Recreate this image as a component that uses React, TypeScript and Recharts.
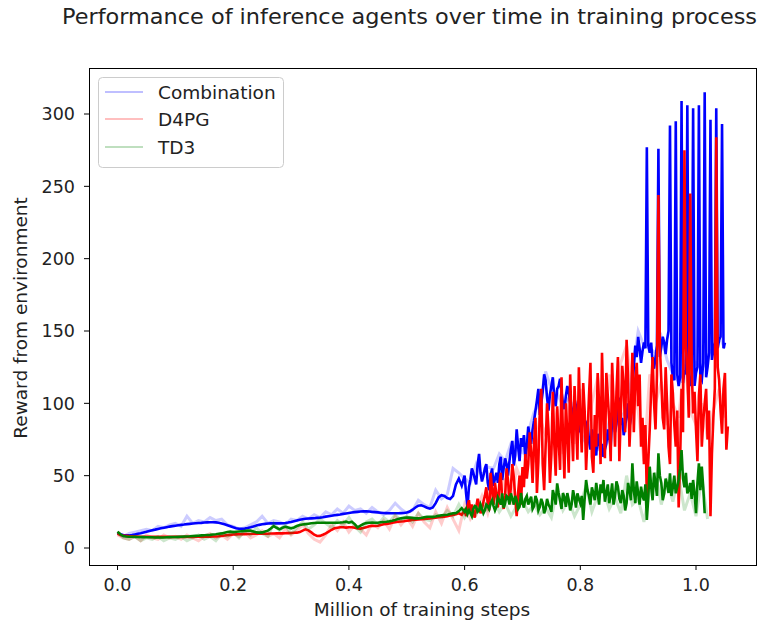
import React from 'react';
import { LineChart, Line, XAxis, YAxis } from 'recharts';

// evaluation every 5000 steps (x in million steps)
const xStep = 0.005;
// from 0.6M steps on, evaluations were logged twice as often
const denseFrom = 120;

// smoothed curves
const combination = [
  10.5, 9.5, 9, 8.8, 8.7, 9, 9.4, 9.8, 10.2, 10.7,
  11.2, 11.8, 12.3, 12.7, 13.2, 13.6, 14, 14.4, 14.8, 15.1,
  15.4, 15.7, 16, 16.2, 16.5, 16.7, 16.9, 17.1, 17.3, 17.4,
  17.6, 17.7, 17.8, 17.8, 17.7, 17.4, 17, 16.4, 15.7, 15,
  14.3, 13.7, 13.3, 13.2, 13.4, 13.8, 14.3, 14.9, 15.5, 16,
  16.4, 16.7, 16.9, 17, 17, 17, 17, 17.1, 17.3, 17.6,
  18, 18.5, 19, 19.5, 19.9, 20.2, 20.4, 20.5, 20.6, 20.8,
  21, 21.3, 21.7, 22, 22.3, 22.6, 22.9, 23.2, 23.6, 23.9,
  24.2, 24.5, 24.8, 25, 25.2, 25.3, 25.3, 25.2, 25, 24.8,
  24.6, 24.4, 24.2, 24.1, 24, 24, 24, 24, 24.1, 24.2,
  24.5, 25.2, 26.5, 28, 29.2, 29.5, 28.8, 27.8, 27.2, 28,
  31, 35, 36.5, 36, 34.5, 33.8, 36, 44, 48, 43,
  50, 28, 47, 52, 44, 65, 46, 55, 45, 50,
  43, 52, 58, 47, 62, 50, 68, 57, 82, 60,
  70, 62, 84, 72, 88, 102, 92, 108, 116, 95,
  112, 104, 110, 117, 100, 105, 108, 95, 103, 90,
  85, 92, 80, 74, 82, 70, 79, 66, 63, 72,
  76, 88, 80, 95, 85, 78, 92, 84, 110, 140,
  146, 128, 142, 277, 135, 128, 132, 276, 139, 142,
  144, 292, 118, 295, 112, 309, 123, 306, 112, 304,
  121, 306, 116, 315, 125, 296, 137, 304, 144, 293, 142,
];
// in-between evaluations after 0.6M steps
const combinationMid = [
  38, 42, 55, 48, 58, 52, 50, 58, 40, 55,
  48, 45, 63, 55, 58, 60, 74, 64, 70, 76,
  78, 70, 78, 82, 95, 110, 100, 120, 104, 106,
  118, 98, 112, 108, 96, 112, 100, 90, 98, 80,
  96, 86, 88, 68, 76, 64, 73, 72, 68, 82,
  70, 93, 86, 104, 90, 84, 100, 90, 125, 132,
  138, 136, 138, 140, 142, 124, 140, 132, 146, 134,
  150, 128, 116, 120, 118, 114, 120, 116, 120, 112,
  125, 118, 128, 118, 135, 130, 142, 138, 146, 138,
];

const d4pg = [
  10, 9, 8.6, 8.4, 8.2, 8.1, 8, 7.9, 7.8, 7.8,
  7.8, 7.7, 7.7, 7.7, 7.7, 7.7, 7.7, 7.7, 7.7, 7.7,
  7.7, 7.7, 7.7, 7.7, 7.7, 7.7, 7.7, 7.8, 7.8, 7.8,
  7.8, 7.8, 7.8, 7.9, 8, 8.1, 8.3, 8.6, 8.9, 9.1,
  9.3, 9.4, 9.5, 9.6, 9.6, 9.7, 9.7, 9.8, 9.8, 9.8,
  9.9, 9.9, 9.9, 10, 10, 10.1, 10.1, 10.1, 10.2, 10.3,
  10.4, 10.5, 10.6, 11, 12, 12.9, 12.2, 10.8, 9.2, 8.3,
  8.4, 9.2, 10.1, 11.3, 12.6, 13.6, 14, 14.3, 14.3, 14.1,
  14.3, 14.3, 14, 13.5, 13.4, 13.8, 14.4, 15, 15.3, 15.2,
  15.4, 15.9, 16.4, 16.7, 17, 17.4, 17.8, 18.1, 18.3, 18.5,
  18.8, 19.1, 19.3, 19.5, 19.7, 19.9, 20.1, 20.3, 20.5, 20.7,
  21, 21.2, 21.5, 21.7, 22, 22.4, 22.8, 23.3, 24, 23,
  26, 29, 24.5, 25, 28, 30, 27, 36, 30, 52,
  30, 37, 44, 33, 36, 47, 42, 49, 22, 50,
  56, 65, 58, 66, 72, 38, 95, 58, 70, 82,
  65, 72, 98, 54, 78, 100, 52, 85, 112, 61,
  90, 114, 54, 105, 63, 92, 121, 58, 95, 121,
  88, 128, 70, 132, 93, 112, 144, 70, 135, 116,
  98, 70, 58, 35, 82, 132, 82, 244, 116, 82,
  100, 58, 107, 70, 28, 110, 275, 120, 245, 93,
  82, 105, 70, 100, 75, 22, 90, 284, 116, 79,
  121, 84,
];
const d4pgMid = [
  22, 33, 30, 21, 34, 24, 32, 42, 26, 40,
  45, 28, 52, 27, 55, 32, 58, 35, 38, 30,
  42, 48, 80, 45, 90, 60, 110, 40, 100, 45,
  108, 50, 75, 118, 48, 80, 120, 60, 88, 125,
  66, 95, 78, 128, 52, 70, 100, 135, 62, 105,
  60, 100, 108, 60, 126, 80, 118, 95, 80, 128,
  120, 90, 85, 60, 110, 100, 120, 140, 90, 125,
  70, 120, 85, 95, 60, 80, 140, 90, 125, 108,
  60, 120, 88, 110, 95, 65, 110, 125, 95, 110,
  68,
];

const td3 = [
  11.3, 9.5, 8.3, 8, 7.8, 7.8, 7.7, 7.6, 7.5, 7.5,
  7.4, 7.4, 7.4, 7.3, 7.3, 7.3, 7.3, 7.4, 7.5, 7.6,
  7.6, 7.7, 7.8, 7.9, 8, 8.1, 8.3, 8.4, 8.5, 8.7,
  8.8, 9, 9.1, 9.3, 9.5, 9.8, 10.1, 10.6, 11.1, 11.3,
  11, 11.2, 11.4, 11.6, 11.8, 12, 12, 11.4, 10.8, 10.6,
  10.8, 11.4, 12, 13.5, 15.2, 14, 12.9, 14, 14.7, 14.2,
  13.6, 14.2, 15.2, 15.9, 16.2, 16.5, 16.8, 17.1, 17.3, 17.5,
  17.5, 17.5, 17.5, 17.5, 17.5, 17.5, 17.5, 17.6, 17.8, 18.2,
  17.5, 18.2, 16.5, 14.3, 15.5, 16.6, 17.2, 17.5, 17.6, 17.5,
  17.5, 17.8, 18, 18.2, 18.5, 18.9, 19.4, 20, 20.5, 20.8,
  21, 21, 20.8, 20.5, 20.5, 20.8, 21.2, 21.6, 21.6, 21.5,
  21.8, 22.2, 22.6, 22.8, 23, 23.5, 24, 24, 25.5, 27.5,
  25, 23.5, 24, 27, 28.5, 26, 27, 26, 29, 31,
  29, 28.5, 33, 37.8, 31, 35, 37.8, 30, 33, 28.5,
  31, 34, 30, 35.5, 29, 33, 28.5, 31, 27, 30,
  25, 36, 44.7, 33, 38, 28.5, 33, 30, 35, 37.8,
  31, 19.4, 47, 36, 42, 33, 37.8, 44, 47, 38,
  31, 44.7, 36, 42.4, 31, 36, 31, 40, 58.5, 31,
  38, 42.4, 33, 19.4, 56.2, 33, 45, 65.5, 45, 37.8,
  44, 51.6, 42, 37.8, 47, 67.7, 42, 37.8, 45, 47,
  24, 58.5, 56.2, 24,
];
const td3Mid = [
  27, 26, 22, 29, 25, 30, 24, 30, 27, 33,
  26, 35, 30, 28, 36, 30, 34, 36, 27, 38,
  28, 36, 33, 27, 36, 26, 34, 24, 34, 28,
  40, 30, 38, 27, 35, 38, 26, 40, 28, 34,
  36, 34, 40, 30, 38, 45, 30, 38, 32, 44,
  36, 30, 46, 34, 40, 26, 45, 33, 40, 46,
  30, 36, 44, 35, 42, 52, 36, 50, 33, 48,
  38, 36, 50, 42, 55, 48, 52, 40, 34, 38,
  45, 40, 42,
];

// raw (unsmoothed) rewards, every 10000 steps
const combinationRaw = [
  10, 8, 10, 11, 12, 13, 12, 15, 14, 16,
  17, 15, 22, 17, 19, 18, 21, 19, 20, 16,
  15, 13, 14, 16, 18, 22, 17, 19, 18, 16,
  20, 19, 22, 20, 23, 21, 25, 23, 27, 24,
  29, 26, 27, 24, 28, 25, 23, 26, 31, 27,
  24, 26, 33, 30, 28, 40, 34, 37, 55, 52,
  48, 45, 58, 50, 56, 55, 65, 60, 72, 68,
  66, 80, 94, 100, 122, 110, 107, 98, 104, 96,
  80, 72, 78, 68, 70, 88, 84, 90, 96, 122,
  150, 140, 138, 135, 146, 130, 120, 115, 125, 118,
  128, 124, 130, 140, 146, 138,
];

const d4pgRaw = [
  9, 7, 6, 8, 5, 9, 7, 6, 9, 7,
  8, 6, 9, 7, 5, 8, 10, 7, 9, 6,
  10, 8, 11, 7, 9, 12, 8, 10, 7, 13,
  9, 12, 16, 10, 6, 4, 9, 16, 12, 18,
  11, 16, 13, 9, 17, 14, 19, 13, 22, 16,
  21, 15, 24, 18, 14, 25, 17, 28, 20, 12,
  30, 20, 26, 36, 24, 40, 32, 48, 30, 55,
  45, 70, 62, 90, 78, 70, 96, 65, 104, 72,
  110, 68, 100, 118, 75, 120, 90, 128, 140, 110,
  95, 60, 120, 100, 115, 85, 100, 90, 130, 95,
  85, 100, 75, 95, 110, 90,
];

const td3Raw = [
  11, 7, 6, 8, 5, 7, 6, 8, 5, 7,
  6, 8, 5, 7, 9, 6, 8, 5, 10, 8,
  11, 7, 12, 9, 14, 10, 8, 17, 12, 16,
  10, 14, 18, 13, 16, 20, 17, 14, 19, 16,
  21, 15, 11, 18, 20, 16, 21, 18, 23, 19,
  22, 18, 24, 20, 19, 23, 21, 26, 22, 30,
  21, 27, 23, 30, 26, 34, 25, 31, 22, 29,
  33, 25, 30, 23, 28, 21, 40, 26, 33, 22,
  30, 43, 25, 36, 40, 27, 35, 24, 50, 30,
  34, 18, 40, 52, 30, 46, 32, 50, 26, 38,
  22, 48, 20,
];

const xTicks = [0, 0.2, 0.4, 0.6, 0.8, 1.0];
const yTicks = [0, 50, 100, 150, 200, 250, 300];

const seriesNames = ['Combination', 'D4PG', 'TD3'];
const seriesColors = ['#0000ff', '#ff0000', '#008000'];

type Row = {
  x: number;
  comb?: number;
  d4pg?: number;
  td3?: number;
  combRaw?: number;
  d4pgRaw?: number;
  td3Raw?: number;
};

const rows: Row[] = [];
for (let i = 0; i < d4pg.length; i++) {
  rows.push({
    x: Number((i * xStep).toFixed(4)),
    comb: combination[i],
    d4pg: d4pg[i],
    td3: td3[i],
    combRaw: i % 2 === 0 ? combinationRaw[i / 2] : undefined,
    d4pgRaw: i % 2 === 0 ? d4pgRaw[i / 2] : undefined,
    td3Raw: i % 2 === 0 ? td3Raw[i / 2] : undefined,
  });
  if (i >= denseFrom) {
    const j = i - denseFrom;
    rows.push({
      x: Number((i * xStep + xStep / 2).toFixed(4)),
      comb: combinationMid[j],
      d4pg: d4pgMid[j],
      td3: td3Mid[j],
    });
  }
}

const font = 'DejaVu Sans, sans-serif';
const tickStyle = { fontSize: 17.5, fill: '#222', fontFamily: font };

export default function App() {
  return (
    <div style={{ position: 'absolute', left: 0, top: 0, width: 759, height: 625, background: '#fff' }}>
      <LineChart
        width={759}
        height={625}
        data={rows}
        margin={{ top: 68, right: 3, left: 0, bottom: 0 }}
      >
        <XAxis
          dataKey="x"
          type="number"
          domain={[-0.0493, 1.1037]}
          allowDataOverflow
          ticks={xTicks}
          tickFormatter={(v: number) => v.toFixed(1)}
          axisLine={false}
          tickLine={{ stroke: '#000' }}
          tickSize={5}
          tickMargin={9}
          height={60}
          tick={tickStyle}
        />
        <YAxis
          type="number"
          domain={[-11.75, 331.8]}
          allowDataOverflow
          ticks={yTicks}
          axisLine={false}
          tickLine={{ stroke: '#000' }}
          tickSize={5}
          tickMargin={9}
          width={89}
          tick={tickStyle}
        />
        <Line dataKey="combRaw" stroke="#0000ff" strokeOpacity={0.2} strokeWidth={3} dot={false} activeDot={false} connectNulls isAnimationActive={false} />
        <Line dataKey="comb" stroke="#0000ff" strokeWidth={2.6} dot={false} activeDot={false} isAnimationActive={false} />
        <Line dataKey="d4pgRaw" stroke="#ff0000" strokeOpacity={0.2} strokeWidth={3} dot={false} activeDot={false} connectNulls isAnimationActive={false} />
        <Line dataKey="d4pg" stroke="#ff0000" strokeWidth={2.6} dot={false} activeDot={false} isAnimationActive={false} />
        <Line dataKey="td3Raw" stroke="#008000" strokeOpacity={0.2} strokeWidth={3} dot={false} activeDot={false} connectNulls isAnimationActive={false} />
        <Line dataKey="td3" stroke="#008000" strokeWidth={2.6} dot={false} activeDot={false} isAnimationActive={false} />
      </LineChart>

      <svg width={759} height={625} style={{ position: 'absolute', left: 0, top: 0, pointerEvents: 'none' }}>
        <rect x={89.5} y={68.5} width={667} height={497} fill="none" stroke="#000" strokeWidth={1} />
        <text x={409.5} y={24} textAnchor="middle" fontSize={21} fontFamily={font} fill="#222" textLength={695} lengthAdjust="spacingAndGlyphs">
          Performance of inference agents over time in training process
        </text>
        <text x={422} y={616} textAnchor="middle" fontSize={18.5} fontFamily={font} fill="#222">
          Million of training steps
        </text>
        <text transform="translate(20,318) rotate(-90)" textAnchor="middle" dominantBaseline="central" fontSize={18.5} fontFamily={font} fill="#222">
          Reward from environment
        </text>
        <rect x={98.5} y={77.5} width={185} height={90} rx={4} fill="#fff" fillOpacity={0.8} stroke="#cccccc" />
        {seriesNames.map((name, i) => {
          const y = [92, 119, 147][i];
          return (
            <g key={name}>
              <line x1={105} x2={143} y1={y} y2={y} stroke={seriesColors[i]} strokeOpacity={0.25} strokeWidth={2} />
              <text x={158} y={y} dominantBaseline="central" fontSize={18.5} fontFamily={font} fill="#222">
                {name}
              </text>
            </g>
          );
        })}
      </svg>
    </div>
  );
}
